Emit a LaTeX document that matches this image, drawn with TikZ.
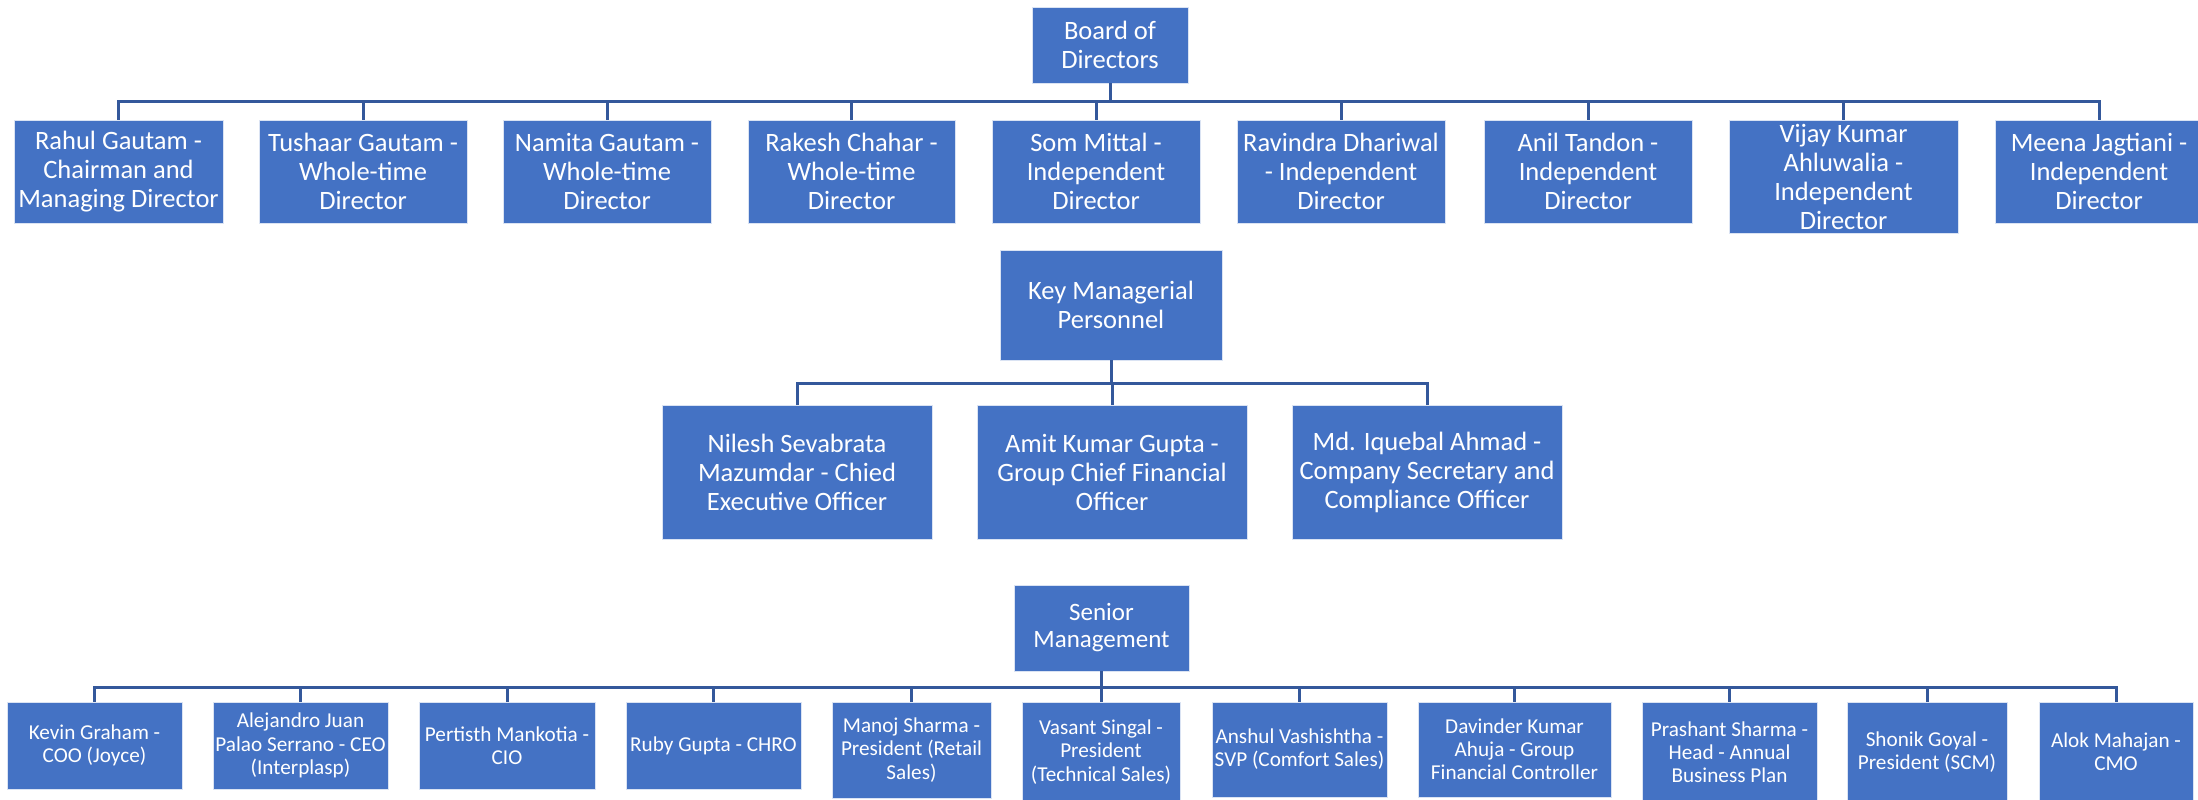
\documentclass[tikz,border=0pt]{standalone}
\usepackage{fontspec}
\setmainfont{Carlito}
\definecolor{boxblue}{HTML}{4472C4}
\definecolor{lineblue}{RGB}{52,88,155}
\begin{document}
\begin{tikzpicture}[x=1pt,y=-1pt,
  box/.style={draw=white!80!boxblue, line width=0.8pt, fill=boxblue, text=white,
    align=center, inner sep=0pt, anchor=center},
  sz/.style 2 args={minimum width=#1pt, minimum height=#2pt},
  big/.style={box, font=\fontsize{26.5}{29}\selectfont},
  mid/.style={box, font=\fontsize{25}{27}\selectfont},
  small/.style={box, font=\fontsize{21.2}{23.2}\selectfont},
  conn/.style={draw=lineblue, line width=3pt, line join=miter}]
\useasboundingbox (0,0) rectangle (2198,800);

% Board of directors
\node[big, sz={156}{76}] (bod) at (1110,45) {Board of\\Directors};
\node[big, sz={209}{103}] (r1) at (118.5,171.5) {Rahul Gautam -\\Chairman and\\Managing Director};
\node[big, sz={208}{103}] (r2) at (363,171.5) {Tushaar Gautam -\\Whole-time\\Director};
\node[big, sz={208}{103}] (r3) at (607,171.5) {Namita Gautam -\\Whole-time\\Director};
\node[big, sz={207}{103}] (r4) at (851.5,171.5) {Rakesh Chahar -\\Whole-time\\Director};
\node[big, sz={208}{103}] (r5) at (1096,171.5) {Som Mittal -\\Independent\\Director};
\node[big, sz={208}{103}] (r6) at (1341,171.5) {Ravindra Dhariwal\\- Independent\\Director};
\node[big, sz={208}{103}] (r7) at (1588,171.5) {Anil Tandon -\\Independent\\Director};
\node[big, sz={229}{113}] (r8) at (1843.5,176.5) {Vijay Kumar\\Ahluwalia -\\Independent\\Director};
\node[big, sz={208}{103}] (r9) at (2099,171.5) {Meena Jagtiani -\\Independent\\Director};

% Key managerial personnel
\node[big, sz={222}{110}] (kmp) at (1111,305) {Key Managerial\\Personnel};
\node[big, sz={270}{134}] (k1) at (797,472) {Nilesh Sevabrata\\Mazumdar - Chied\\Executive Officer};
\node[big, sz={270}{134}] (k2) at (1112,472) {Amit Kumar Gupta -\\Group Chief Financial\\Officer};
\node[big, sz={270}{134}] (k3) at (1427,472) {Md. Iquebal Ahmad -\\Company Secretary and\\Compliance Officer};

% Senior management
\node[mid, sz={175}{86}] (sm) at (1101.5,628) {Senior\\Management};
\node[small, sz={175}{87}] (s1) at (94.5,745.5) {Kevin Graham -\\COO (Joyce)};
\node[small, sz={175}{87}] (s2) at (300.5,745.5) {Alejandro Juan\\Palao Serrano - CEO\\(Interplasp)};
\node[small, sz={176}{87}] (s3) at (507,745.5) {Pertisth Mankotia -\\CIO};
\node[small, sz={175}{87}] (s4) at (713.5,745.5) {Ruby Gupta - CHRO};
\node[small, sz={159}{96}] (s5) at (911.5,750) {Manoj Sharma -\\President (Retail\\Sales)};
\node[small, sz={158}{100}] (s6) at (1101,752) {Vasant Singal -\\President\\(Technical Sales)};
\node[small, sz={175}{95}] (s7) at (1299.5,749.5) {Anshul Vashishtha -\\SVP (Comfort Sales)};
\node[small, sz={193}{95}] (s8) at (1514.5,749.5) {Davinder Kumar\\Ahuja - Group\\Financial Controller};
\node[small, sz={175}{100}] (s9) at (1729.5,752) {Prashant Sharma -\\Head - Annual\\Business Plan};
\node[small, sz={160}{100}] (s10) at (1927,752) {Shonik Goyal -\\President (SCM)};
\node[small, sz={154}{100}] (s11) at (2116,752) {Alok Mahajan -\\CMO};

% bus levels
\coordinate (bus1) at (0,101);
\coordinate (bus2) at (0,383);
\coordinate (bus3) at (0,687);

\foreach \n in {r1,r2,r3,r4,r5,r6,r7,r8,r9}
  \draw[conn] (bod.south) -- (bod.south |- bus1) -| (\n.north);
\foreach \n in {k1,k2,k3}
  \draw[conn] (kmp.south) -- (kmp.south |- bus2) -| (\n.north);
\foreach \n in {s1,s2,s3,s4,s5,s6,s7,s8,s9,s10,s11}
  \draw[conn] (sm.south) -- (sm.south |- bus3) -| (\n.north);
\end{tikzpicture}
\end{document}
